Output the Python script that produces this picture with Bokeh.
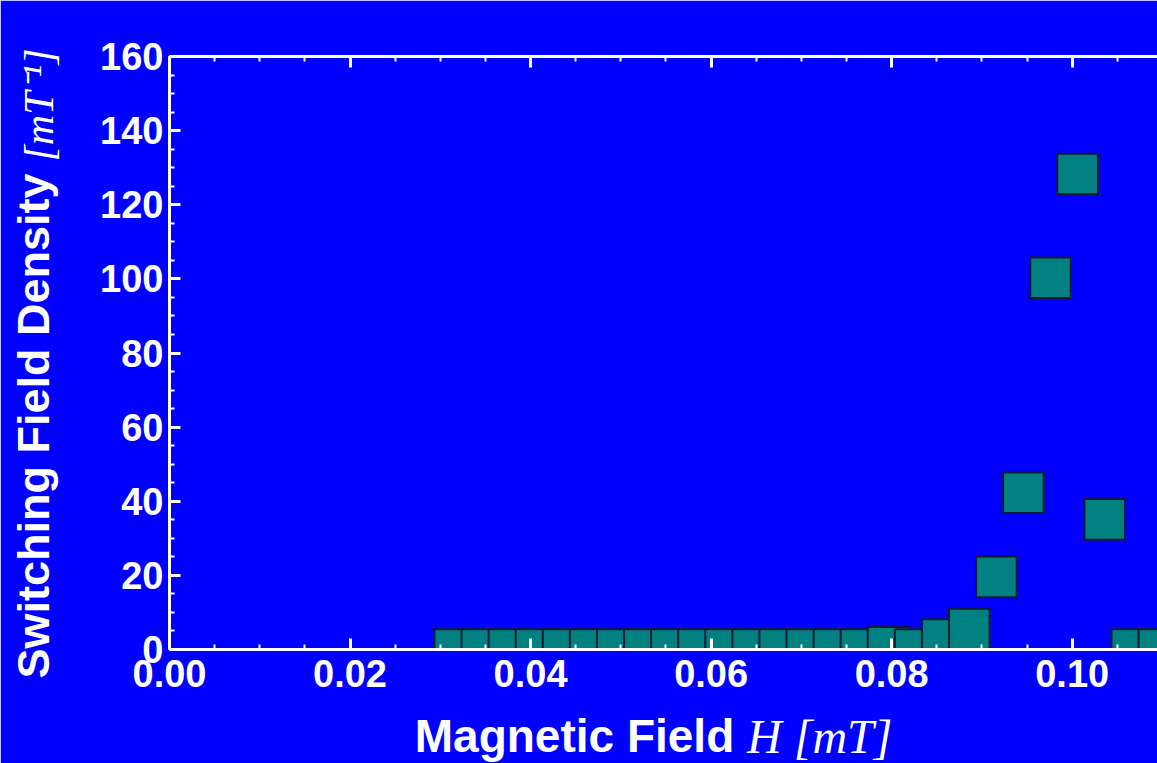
import math

from bokeh.embed import file_html
from bokeh.models import (ColumnDataSource, CustomJSTickFormatter, Label, LinearAxis,
                          NumeralTickFormatter, Range1d, SingleIntervalTicker)
from bokeh.plotting import figure
from bokeh.resources import INLINE

# Switching field histogram: bin centres (mT) and density (1/mT)
field = [0.0316, 0.0346, 0.0376, 0.0406, 0.0436, 0.0466, 0.0496, 0.0526, 0.0556,
         0.0586, 0.0616, 0.0646, 0.0676, 0.0706, 0.0736, 0.0766, 0.0796, 0.0826,
         0.0856, 0.0886, 0.0916, 0.0946, 0.0976, 0.1006, 0.1036, 0.1066, 0.1096]
density = [0.0, 0.0, 0.0, 0.0, 0.0, 0.0, 0.0, 0.0, 0.0,
           0.0, 0.0, 0.0, 0.0, 0.0, 0.0, 0.0, 0.6, 0.0,
           2.7, 5.5, 19.6, 42.3, 100.3, 128.3, 35.1, 0.0, 0.0]

x_ticks_step = 0.02
y_ticks_step = 20

BG = "#0000FF"
WHITE = "#FFFFFF"
SANS = "Liberation Sans"
SERIF = "Liberation Serif"

p = figure(width=1157, height=763, output_backend="svg", toolbar_location=None,
           x_range=Range1d(0, 0.10945), y_range=Range1d(0, 160),
           x_axis_location="below", y_axis_location="left",
           min_border_left=167, min_border_right=0, min_border_top=56,
           min_border_bottom=114)
p.background_fill_color = BG
p.border_fill_color = BG
p.outline_line_color = None
p.grid.visible = False


def style_axis(ax, show_labels):
    ax.axis_line_color = WHITE
    ax.axis_line_width = 3
    ax.major_tick_line_color = WHITE
    ax.major_tick_line_width = 3
    ax.major_tick_in = 11
    ax.major_tick_out = 0
    ax.minor_tick_line_color = WHITE
    ax.minor_tick_line_width = 2
    ax.minor_tick_in = 5
    ax.minor_tick_out = 0
    ax.major_label_text_color = WHITE
    ax.major_label_text_font = SANS
    ax.major_label_text_font_style = "bold"
    ax.major_label_text_font_size = "38px"
    if not show_labels:
        ax.formatter = CustomJSTickFormatter(code="return ''")
        ax.major_label_text_font_size = "1px"
        ax.major_label_standoff = 0


xaxis = p.xaxis[0]
xaxis.ticker = SingleIntervalTicker(interval=x_ticks_step, num_minor_ticks=4)
xaxis.formatter = NumeralTickFormatter(format="0.00")
style_axis(xaxis, True)
xaxis.major_label_standoff = 10

yaxis = p.yaxis[0]
yaxis.ticker = SingleIntervalTicker(interval=y_ticks_step, num_minor_ticks=4)
style_axis(yaxis, True)
yaxis.major_label_standoff = 6

top_axis = LinearAxis(ticker=SingleIntervalTicker(interval=x_ticks_step, num_minor_ticks=4))
style_axis(top_axis, False)
p.add_layout(top_axis, "above")

src = ColumnDataSource(data=dict(field=field, density=density))
p.scatter("field", "density", source=src, marker="square", size=40.6,
          fill_color="#008080", line_color="#0e1a30", line_width=2)


def title_part(x, y, text, font, style, size, angle=0.0):
    return Label(x=x, y=y, text=text, angle=angle, text_font=font, text_font_style=style,
                 text_font_size=size, text_color=WHITE, text_align="left",
                 text_baseline="alphabetic")


# Axis titles: bold sans words followed by italic math-style units.
# Each part lives in a side panel, so the frame does not clip it.
p.add_layout(title_part(0.02717, -23.47, "Magnetic Field", SANS, "bold", "46px"), "below")
p.add_layout(title_part(0.06398, -23.47, "H [mT]", SERIF, "italic", "48px"), "above")
p.add_layout(title_part(-0.01508, -7.82, "Switching Field Density", SANS, "bold", "45px",
                        math.pi / 2), "left")
p.add_layout(title_part(-0.01446, 131.67, "[mT\u207b\u00b9]", SERIF, "italic", "42px",
                        math.pi / 2), "left")

open("out.html", "w").write(file_html(p, INLINE))
